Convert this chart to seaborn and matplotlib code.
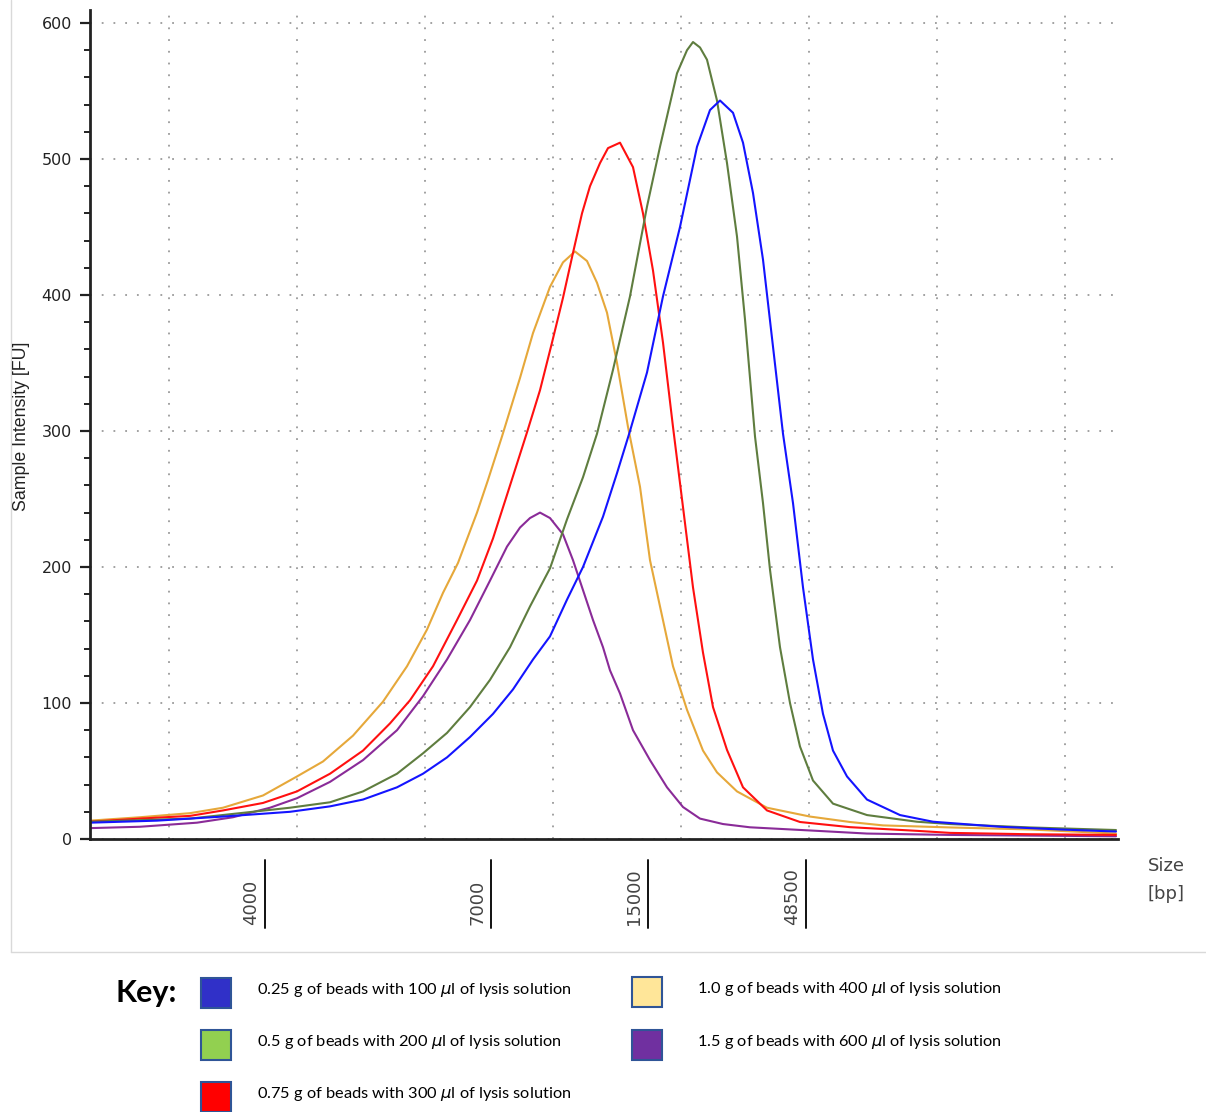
import matplotlib
matplotlib.use("Agg")
import matplotlib.pyplot as plt
from matplotlib.lines import Line2D
from matplotlib.patches import Rectangle
from matplotlib.ticker import MultipleLocator
import seaborn as sns
import pandas as pd

# ---------------- data ----------------
series_names = [
    "0.25 g of beads with 100 $\\mu$l of lysis solution",
    "0.5 g of beads with 200 $\\mu$l of lysis solution",
    "0.75 g of beads with 300 $\\mu$l of lysis solution",
    "1.0 g of beads with 400 $\\mu$l of lysis solution",
    "1.5 g of beads with 600 $\\mu$l of lysis solution",
]

blue_x = [0, 67, 133, 200, 240, 273, 307, 333, 357, 380, 403, 423, 443, 460, 477, 493, 513, 527, 540, 557,
          573, 590, 607, 620, 630, 643, 653, 663, 673, 683, 693, 703, 713, 723, 733, 743, 757, 777, 810, 843,
          910, 970, 1026]
blue_y = [12, 13.5, 16.5, 20, 24, 29, 38, 48, 60, 75, 92, 110, 132, 149, 176, 200, 237, 269, 300, 343,
          399, 450, 509, 536, 543, 534, 512, 475, 426, 362, 298, 247, 185, 132, 92, 65, 46, 29, 17.6, 12.7,
          9, 7, 5.5]

green_x = [0, 100, 150, 200, 240, 273, 307, 333, 357, 380, 400, 420, 440, 460, 477, 493, 507, 523, 540, 557,
           570, 587, 597, 603, 610, 617, 627, 637, 647, 655, 665, 673, 680, 690, 700, 710, 723, 743, 777, 827,
           860, 940, 1026]
green_y = [12.7, 15, 19, 23, 27, 35, 48, 63, 78, 97, 117, 141, 171, 199, 235, 266, 298, 345, 399, 465,
           509, 563, 580, 586, 582, 573, 543, 497, 443, 382, 296, 247, 198, 141, 100, 68, 43, 26, 17.6, 12.7,
           11, 8.5, 6.6]

red_x = [0, 50, 100, 133, 173, 207, 240, 273, 300, 320, 343, 367, 387, 403, 417, 427, 437, 450, 462, 473,
         483, 492, 500, 510, 518, 530, 543, 553, 563, 573, 583, 593, 603, 613, 623, 637, 653, 677, 710, 760,
         827, 860, 940, 1026]
red_y = [12.7, 15, 17, 21, 26.5, 35, 48, 65, 85, 102, 127, 161, 190, 221, 253, 276, 299, 330, 365, 398,
         431, 460, 480, 497, 508, 512, 494, 460, 418, 365, 303, 244, 185, 137, 97, 65.5, 38, 21, 12.5, 8.7,
         6, 4.5, 3.5, 3]

orange_x = [0, 50, 100, 133, 173, 207, 233, 263, 293, 317, 337, 353, 368, 387, 398, 412, 430, 443, 460, 473,
            485, 497, 507, 517, 527, 538, 550, 560, 570, 583, 597, 613, 627, 647, 677, 720, 760, 793, 860, 940,
            1026]
orange_y = [13.5, 16, 19, 23, 32, 46, 57, 76, 101, 127, 154, 181, 203, 240, 264, 296, 339, 372, 406, 424,
            432, 425, 409, 387, 350, 303, 259, 205, 171, 127, 95, 65, 49, 35, 23, 16.5, 12.5, 10, 8.5, 7,
            4]

purple_x = [0, 50, 107, 143, 180, 207, 240, 273, 307, 333, 357, 380, 400, 417, 430, 440, 450, 460, 473, 483,
            493, 503, 513, 520, 530, 543, 560, 577, 593, 610, 633, 660, 727, 777, 860, 940, 1026]
purple_y = [8, 9, 12, 16, 23, 30, 42, 58, 80, 105, 132, 161, 190, 215, 229, 236, 240, 236, 224, 205,
            183, 161, 141, 124, 107, 80, 58, 38, 23.5, 15, 11, 8.6, 6, 4, 3, 2.5, 2]

ladder_sizes = ["4000", "7000", "15000", "48500"]
ladder_pos = [175, 401, 558, 716]
grid_x = [79, 207, 335, 463, 591, 719, 847, 975]

line_colors = ["#1414ff", "#5f7d3f", "#ff1010", "#e6a83a", "#8a2b98"]
key_colors = ["#3030c8", "#92d050", "#ff0000", "#ffe699", "#7030a0"]

xs = [blue_x, green_x, red_x, orange_x, purple_x]
ys = [blue_y, green_y, red_y, orange_y, purple_y]
frames = []
for name, x, y in zip(series_names, xs, ys):
    frames.append(pd.DataFrame({"pos": x, "fu": y, "sample": name}))
df = pd.concat(frames, ignore_index=True)

# ---------------- figure ----------------
sns.set_style("white")
plt.rcParams["font.family"] = ["DejaVu Sans"]

fig = plt.figure(figsize=(12.06, 11.12), dpi=100)
W, H = 1206.0, 1112.0
ax = fig.add_axes([90 / W, 1 - 839 / H, (1118 - 90) / W, (839 - 10) / H])

# grid
for gx in grid_x:
    ax.axvline(gx, color="#9a9a9a", lw=1.3, ls=(0, (1, 5.5)), zorder=0)
for gy in range(0, 700, 100):
    ax.axhline(gy, color="#9a9a9a", lw=1.3, ls=(0, (1, 5.5)), zorder=0)

draw_order = [4, 3, 2, 1, 0]
pal = {series_names[i]: line_colors[i] for i in range(5)}
sns.lineplot(data=df, x="pos", y="fu", hue="sample", hue_order=[series_names[i] for i in draw_order],
             palette=pal, estimator=None, sort=True, lw=1.5, legend=False, ax=ax)

ax.set_xlim(0, 1028)
ax.set_ylim(0, (839 - 10) / 1.36)
ax.yaxis.set_major_locator(MultipleLocator(100))
ax.yaxis.set_minor_locator(MultipleLocator(20))
ax.set_xticks([])
ax.tick_params(axis="y", which="major", length=7, width=1.6, color="#222222", left=True,
               labelsize=11.5, labelcolor="#222222", pad=6)
ax.tick_params(axis="y", which="minor", length=4, width=1.4, color="#222222", left=True)
for s in ["top", "right"]:
    ax.spines[s].set_visible(False)
for s in ["left", "bottom"]:
    ax.spines[s].set_color("#222222")
    ax.spines[s].set_linewidth(2.0)
ax.set_xlabel("")
ax.set_ylabel("")
fig.text(22 / W, 1 - 426 / H, "Sample Intensity [FU]", rotation=90, ha="center", va="center",
         fontsize=12.8, color="#222222", fontfamily="Liberation Sans")

# ladder markers below the axis
for lbl, p in zip(ladder_sizes, ladder_pos):
    ax.plot([p, p], [-21 / 829, -89 / 829], color="#111111", lw=1.4,
            transform=ax.get_xaxis_transform(), clip_on=False)
    ax.annotate(lbl, xy=(p, -86 / 829), xycoords=("data", "axes fraction"),
                xytext=(-14, 0), textcoords="offset pixels", rotation=90,
                ha="center", va="bottom", fontsize=13, color="#444444")

fig.text(1166 / W, 1 - 866 / H, "Size", ha="center", va="center", fontsize=13, color="#444444")
fig.text(1166 / W, 1 - 894 / H, "[bp]", ha="center", va="center", fontsize=13, color="#444444")

# light frame
fig.add_artist(Line2D([11 / W, 11 / W], [1, 1 - 952 / H], color="#d9d9d9", lw=1.0))
fig.add_artist(Line2D([11 / W, 1], [1 - 952 / H, 1 - 952 / H], color="#d9d9d9", lw=1.0))

# key
fig.text(115 / W, 1 - 993 / H, "Key:", ha="left", va="center", fontsize=22, fontweight="bold",
         fontfamily="Lato", color="black")
key_slots = [(201, 993, 257), (201, 1045, 257), (201, 1097, 257), (632, 992, 697), (632, 1045, 697)]
for i, (sx, sy, tx) in enumerate(key_slots):
    fig.add_artist(Rectangle((sx / W, 1 - (sy + 15) / H), 30 / W, 30 / H, facecolor=key_colors[i],
                             edgecolor="#2f5597", lw=1.5, transform=fig.transFigure))
    fig.text(tx / W, 1 - (sy - 3) / H, series_names[i], ha="left", va="center", fontsize=11.8,
             fontfamily="Lato", color="black")

fig.savefig("out.png", dpi=100)
